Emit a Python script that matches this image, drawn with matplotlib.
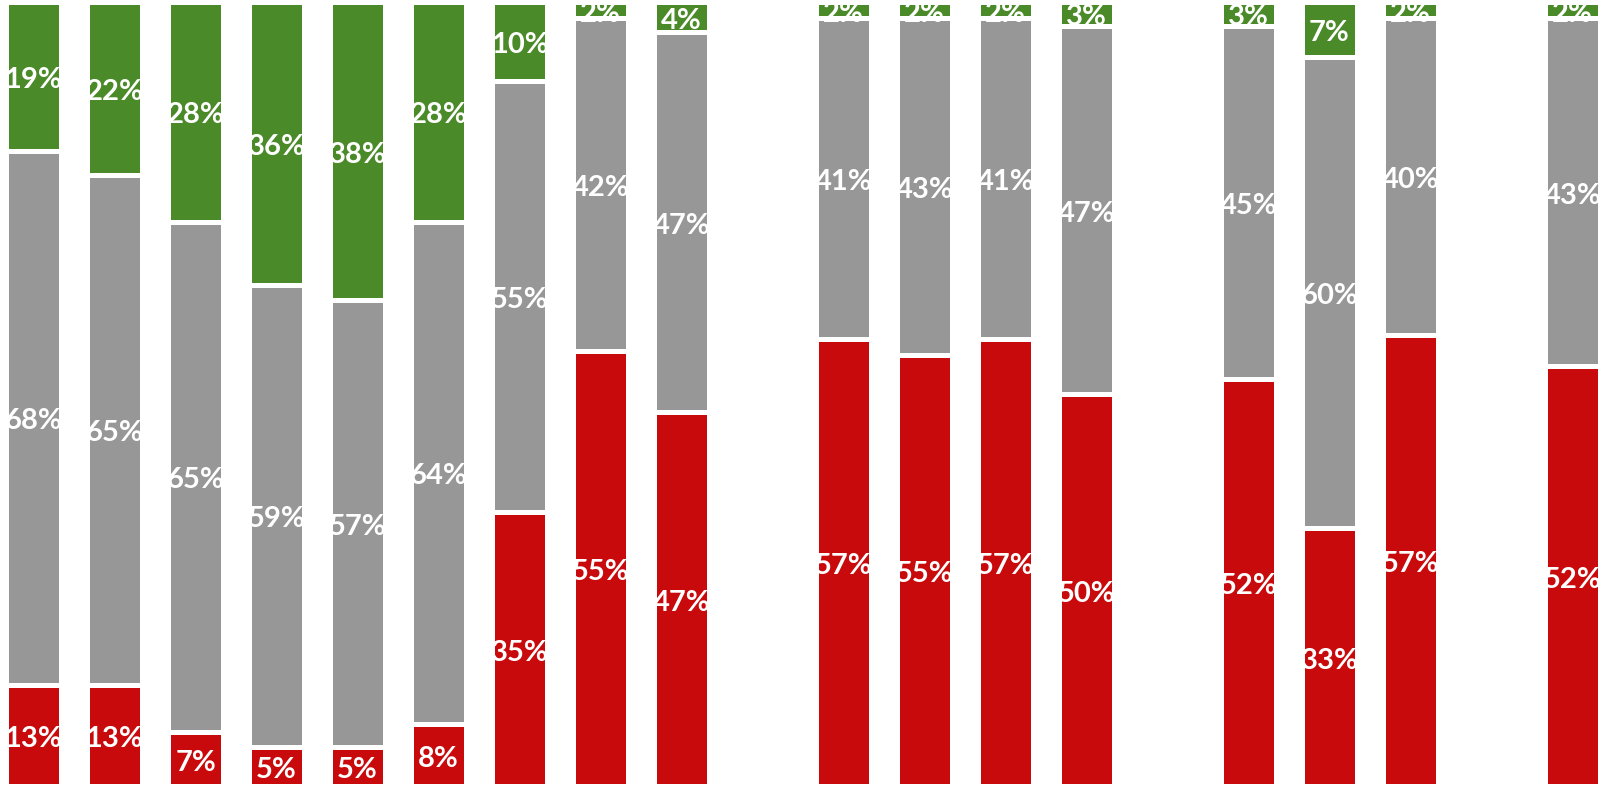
import matplotlib
matplotlib.use("Agg")
import matplotlib.pyplot as plt
import numpy as np

# Printed percentages per bar (None = empty slot between groups)
red_vals   = [13, 13, 7, 5, 5, 8, 35, 55, 46.6, None, 57, 55, 57, 50, None, 52, 33, 57, None, 52]
gray_vals  = [68, 65, 65, 59, 57, 64, 55, 42, 47.4, None, 41, 43, 41, 47, None, 45, 60, 40, None, 43]
green_vals = [19, 22, 28, 36, 38, 28, 10, 2, 3.7, None, 2, 2, 2, 3, None, 3, 7, 2, None, 2]

RED = "#C80A0C"
GRAY = "#979797"
GREEN = "#4A8A28"

fig = plt.figure(figsize=(16.04, 7.85), dpi=100)
ax = fig.add_axes([0, 0, 1, 1])
ax.axis("off")

width = 0.667
font = dict(family=["Lato", "DejaVu Sans"], weight="bold", size=21, color="white")

for i, (r, g, e) in enumerate(zip(red_vals, gray_vals, green_vals)):
    if r is None:
        continue
    total = r + g + e
    segs = [(r, RED), (g, GRAY), (e, GREEN)]
    bottom = 0.0
    for v, col in segs:
        h = v / total * 100
        ax.bar(i, h, bottom=bottom, width=width, color=col,
               edgecolor="white", linewidth=3.6)
        ax.annotate(f"{round(v)}%", xy=(i, bottom + h / 2), xytext=(0, -2.5),
                    textcoords="offset points", ha="center", va="center",
                    **font)
        bottom += h

ax.set_xlim(-0.4136, 19.389)
ax.set_ylim(0.191, 100.28)

fig.savefig("out.png", dpi=100)
